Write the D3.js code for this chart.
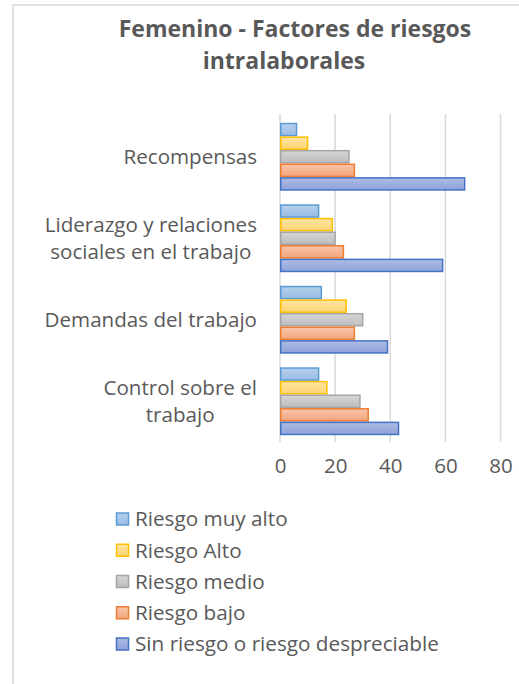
<!DOCTYPE html>
<meta charset="utf-8">
<style>
    body { margin: 0; background: #fff; }
    text { font-family: "Open Sans", sans-serif; fill: #595959; }
    .title { font-weight: bold; font-size: 23px; text-anchor: middle; }
    .cat { font-size: 20.6px; text-anchor: middle; }
    .legend text { font-size: 20.7px; }
</style>
<svg width="519" height="684"></svg>
<script src="https://cdn.jsdelivr.net/npm/d3@7"></script>
<script>
    // data
    var categories = ["Recompensas", "Liderazgo y relaciones sociales en el trabajo", "Demandas del trabajo", "Control sobre el trabajo"];
    var categoryLines = [["Recompensas"], ["Liderazgo y relaciones", "sociales en el trabajo"], ["Demandas del trabajo"], ["Control sobre el", "trabajo"]];
    var seriesNames = ["Riesgo muy alto", "Riesgo Alto", "Riesgo medio", "Riesgo bajo", "Sin riesgo o riesgo despreciable"];
    var muyAlto = [6, 14, 15, 14];
    var alto = [10, 19, 24, 17];
    var medio = [25, 20, 30, 29];
    var bajo = [27, 23, 27, 32];
    var sinRiesgo = [67, 59, 39, 43];
    var tickValues = [0, 20, 40, 60, 80];

    var seriesValues = [muyAlto, alto, medio, bajo, sinRiesgo];
    var strokes = ["#5b9bd5", "#ffc000", "#a5a5a5", "#ed7d31", "#4472c4"];
    var fillTop = ["#b7d0ed", "#ffe4a3", "#d6d6d6", "#f8c6aa", "#aebbe4"];
    var fillBottom = ["#98bce4", "#ffd572", "#bdbdbd", "#f1a57d", "#8ea3d9"];

    var svg = d3.select("svg");

    // frame
    svg.append("rect")
        .attr("x", 13).attr("y", 5)
        .attr("width", 700).attr("height", 900)
        .attr("fill", "none")
        .attr("stroke", "#d9d9d9")
        .attr("stroke-width", 1.5);

    var defs = svg.append("defs");
    seriesNames.forEach(function (s, i) {
        var g = defs.append("linearGradient")
            .attr("id", "grad" + i)
            .attr("x1", 0).attr("y1", 0).attr("x2", 0).attr("y2", 1);
        g.append("stop").attr("offset", "0%").attr("stop-color", fillTop[i]);
        g.append("stop").attr("offset", "100%").attr("stop-color", fillBottom[i]);
    });

    // title
    var title = svg.append("text").attr("class", "title");
    title.append("tspan").attr("x", 295).attr("y", 37).text("Femenino - Factores de riesgos");
    title.append("tspan").attr("x", 284).attr("y", 69).text("intralaborales");

    var x = d3.scaleLinear().domain([0, 80]).range([280, 500.5]);
    var y = d3.scaleBand().domain(categories).range([116, 442])
        .paddingInner(1 / 6).paddingOuter(1 / 12);
    var ys = d3.scaleBand().domain(seriesNames).range([0, y.bandwidth()]);

    // gridlines
    svg.append("g")
        .selectAll("line")
        .data(tickValues)
        .enter().append("line")
        .attr("x1", function (d) { return x(d); })
        .attr("x2", function (d) { return x(d); })
        .attr("y1", 114)
        .attr("y2", 442)
        .attr("stroke", "#d9d9d9")
        .attr("stroke-width", 1.5);

    // bars
    var groups = svg.append("g")
        .selectAll("g")
        .data(seriesNames)
        .enter().append("g");

    groups.selectAll("rect")
        .data(function (s, i) {
            return categories.map(function (c, j) { return { cat: c, s: s, i: i, v: seriesValues[i][j] }; });
        })
        .enter().append("rect")
        .attr("x", x(0) + 0.75)
        .attr("y", function (d) { return y(d.cat) + ys(d.s) + 0.75; })
        .attr("width", function (d) { return x(d.v) - x(0) - 0.75; })
        .attr("height", ys.bandwidth() - 1.5)
        .attr("fill", function (d) { return "url(#grad" + d.i + ")"; })
        .attr("stroke", function (d) { return strokes[d.i]; })
        .attr("stroke-width", 1.5);

    // category labels, right aligned block with centered lines
    categoryLines.forEach(function (lines, j) {
        var t = svg.append("text").attr("class", "cat");
        var cy = y(categories[j]) + y.bandwidth() / 2;
        var lh = 27;
        var spans = lines.map(function (l, k) {
            return t.append("tspan")
                .attr("y", cy + (k - (lines.length - 1) / 2) * lh)
                .attr("dy", "0.35em")
                .text(l);
        });
        var w = d3.max(spans, function (sp) { return sp.node().getComputedTextLength(); });
        spans.forEach(function (sp) { sp.attr("x", 257 - w / 2); });
    });

    // x axis labels
    var axis = svg.append("g")
        .attr("transform", "translate(0,458)")
        .call(d3.axisBottom(x).tickValues(tickValues).tickSize(0).tickPadding(0));
    axis.select(".domain").remove();
    axis.selectAll("text").attr("fill", "#595959").attr("dy", "0.71em")
        .style("font-family", "'Open Sans', sans-serif").style("font-size", "20.5px");

    // legend
    var legend = svg.append("g")
        .attr("class", "legend")
        .selectAll("g")
        .data(seriesNames)
        .enter().append("g")
        .attr("transform", function (d, i) { return "translate(0," + (519 + i * 31.25) + ")"; });

    legend.append("rect")
        .attr("x", 116.5).attr("y", -6)
        .attr("width", 12).attr("height", 12)
        .attr("fill", function (d, i) { return "url(#grad" + i + ")"; })
        .attr("stroke", function (d, i) { return strokes[i]; })
        .attr("stroke-width", 1.5);

    legend.append("text")
        .attr("x", 135)
        .attr("dy", "0.35em")
        .text(function (d) { return d; });
</script>
